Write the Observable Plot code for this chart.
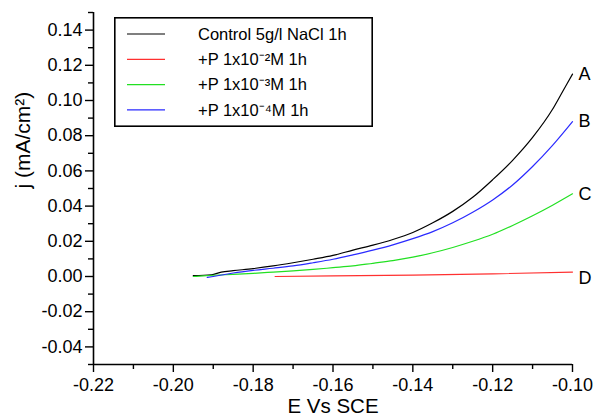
<!DOCTYPE html>
<html>
<head>
<meta charset="utf-8">
<script src="https://cdn.jsdelivr.net/npm/d3@7"></script>
<script src="https://cdn.jsdelivr.net/npm/@observablehq/plot@0.6"></script>
<style>
  html, body { margin: 0; padding: 0; background: #fff; }
  #wrap { position: relative; width: 594px; height: 416px; font-family: "Liberation Sans", Arial, sans-serif; }
  #legend { position: absolute; left: 114px; top: 17px; }
</style>
</head>
<body>
<div id="wrap"><div id="chart"></div><div id="legend"></div></div>
<script>
// ---- data ----
const seriesNames = ["Control 5g/l NaCl 1h", "+P 1x10⁻²M 1h", "+P 1x10⁻³M 1h", "+P 1x10⁻⁴M 1h"];
const seriesColors = ["#000000", "#ff3030", "#22e022", "#2a2aff"];
const endTags = ["A", "D", "C", "B"];

const controlPts = [[-0.195,0.0005],[-0.1905,0.001],[-0.188,0.0025],[-0.185,0.0033],[-0.18,0.0045],[-0.175,0.006],[-0.17,0.0078],[-0.165,0.0098],[-0.16,0.012],[-0.155,0.015],[-0.15,0.0178],[-0.145,0.021],[-0.14,0.025],[-0.135,0.0305],[-0.13,0.037],[-0.125,0.045],[-0.12,0.055],[-0.115,0.066],[-0.11,0.079],[-0.105,0.095],[-0.1025,0.105],[-0.1,0.115]];
const p2Pts = [[-0.1745,0.0],[-0.16,0.0003],[-0.14,0.0008],[-0.12,0.0015],[-0.1,0.0025]];
const p3Pts = [[-0.195,0.0],[-0.19,0.0007],[-0.185,0.0012],[-0.18,0.0018],[-0.175,0.0025],[-0.17,0.0032],[-0.165,0.004],[-0.16,0.005],[-0.155,0.006],[-0.15,0.0075],[-0.145,0.009],[-0.14,0.011],[-0.135,0.0135],[-0.13,0.0165],[-0.125,0.02],[-0.12,0.024],[-0.115,0.029],[-0.11,0.0345],[-0.105,0.0405],[-0.1,0.047]];
const p4Pts = [[-0.1915,-0.0005],[-0.19,0.0],[-0.185,0.002],[-0.18,0.0035],[-0.175,0.0047],[-0.17,0.006],[-0.165,0.0078],[-0.16,0.0098],[-0.155,0.0123],[-0.15,0.015],[-0.145,0.018],[-0.14,0.0215],[-0.135,0.0255],[-0.13,0.0305],[-0.125,0.0365],[-0.12,0.0435],[-0.115,0.052],[-0.11,0.0625],[-0.105,0.0745],[-0.1,0.088]];
const seriesPts = [controlPts, p2Pts, p3Pts, p4Pts];

const xDomain = [-0.22, -0.10];
const yDomain = [-0.05, 0.15];
const xTicks = [-0.22, -0.20, -0.18, -0.16, -0.14, -0.12, -0.10];
const xMinor = [-0.21, -0.19, -0.17, -0.15, -0.13, -0.11];
const yTicks = [-0.04, -0.02, 0.00, 0.02, 0.04, 0.06, 0.08, 0.10, 0.12, 0.14];
const yMinor = [-0.05, -0.03, -0.01, 0.01, 0.03, 0.05, 0.07, 0.09, 0.11, 0.13, 0.15];
const xLabel = "E Vs SCE";
const yLabel = "j (mA/cm²)";

// ---- build table ----
const rows = seriesPts.flatMap((pts, i) => pts.map(([E, j]) => ({E, j, name: seriesNames[i]})));
const ends = seriesPts.map((pts, i) => ({E: pts[pts.length-1][0], j: pts[pts.length-1][1], tag: endTags[i]}));

const fmt = d => d.toFixed(2);
const font = "Liberation Sans, Arial, sans-serif";

const chart = Plot.plot({
  width: 594, height: 416,
  marginLeft: 93, marginRight: 22, marginTop: 12, marginBottom: 52,
  x: {domain: xDomain},
  y: {domain: yDomain},
  color: {domain: seriesNames, range: seriesColors},
  style: {fontFamily: font, fontSize: "18px", color: "#000", background: "#fff", overflow: "visible"},
  marks: [
    Plot.axisY({ticks: yTicks, tickSize: 8, tickPadding: 3, tickFormat: fmt, label: null, fontSize: 18, strokeWidth: 1.4}),
    Plot.axisY({ticks: yMinor, tickSize: 5, tickFormat: () => "", label: null, strokeWidth: 1.4}),
    Plot.axisX({ticks: xTicks, tickSize: 8, tickPadding: 6, tickFormat: fmt, label: null, fontSize: 18, strokeWidth: 1.4}),
    Plot.axisX({ticks: xMinor, tickSize: 5, tickFormat: () => "", label: null, strokeWidth: 1.4}),
    Plot.ruleX([xDomain[0]], {stroke: "#000", strokeWidth: 1.6}),
    Plot.ruleY([yDomain[0]], {stroke: "#000", strokeWidth: 1.6}),
    Plot.line(rows, {x: "E", y: "j", z: "name", stroke: "name", strokeWidth: 1.2, curve: "monotone-x"}),
    Plot.text(ends.filter(d => d.tag !== "D"), {x: "E", y: "j", text: "tag", dx: 6, textAnchor: "start", fontSize: 18}),
    Plot.text(ends.filter(d => d.tag === "D"), {x: "E", y: "j", text: "tag", dx: 6, dy: 6, textAnchor: "start", fontSize: 18}),
    Plot.text([xLabel], {frameAnchor: "bottom", lineAnchor: "middle", dy: 42, fontSize: 20.5}),
    Plot.text([yLabel], {frameAnchor: "left", dx: -70, rotate: -90, fontSize: 21})
  ]
});
document.getElementById("chart").appendChild(chart);

// ---- legend box ----
const lw = 259, lh = 110;
const leg = d3.select("#legend").append("svg").attr("width", lw).attr("height", lh)
  .style("font-family", font).style("overflow", "visible");
leg.append("rect").attr("x", 0.8).attr("y", 0.8).attr("width", lw - 1.6).attr("height", lh - 1.6)
  .attr("fill", "#fff").attr("stroke", "#000").attr("stroke-width", 1.6);
const item = leg.selectAll("g").data(seriesNames).join("g")
  .attr("transform", (d, i) => `translate(0, ${17 + i * 25.3})`);
item.append("line").attr("x1", 13).attr("x2", 51).attr("y1", 0).attr("y2", 0)
  .attr("stroke", (d, i) => seriesColors[i]).attr("stroke-width", 1.2);
item.append("text").attr("x", 84).attr("y", 0).attr("dy", "0.35em")
  .attr("font-size", 16.5).attr("fill", "#000").text(d => d);
</script>
</body>
</html>
